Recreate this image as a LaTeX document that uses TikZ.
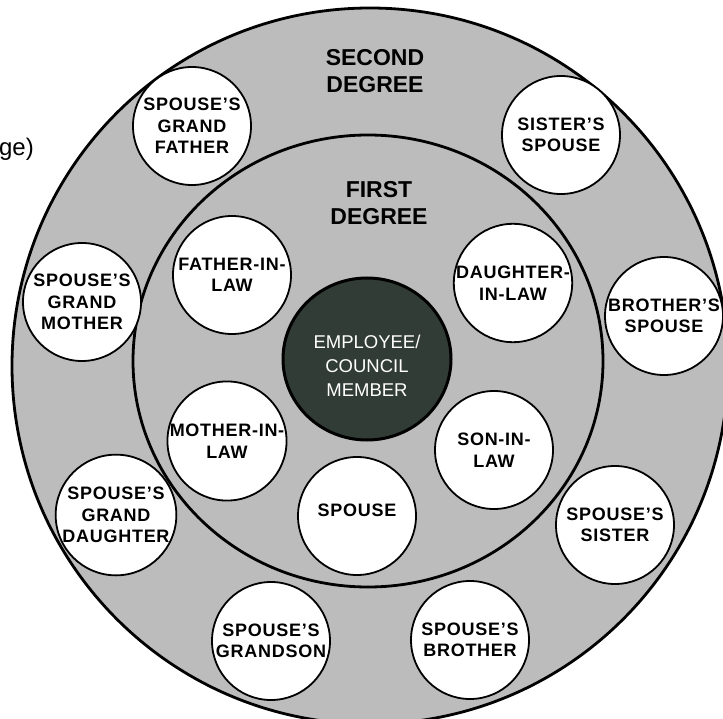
\documentclass[tikz,border=0pt]{standalone}
\usepackage{fontspec}
\setmainfont{Liberation Sans}
\usetikzlibrary{shapes.geometric}
\definecolor{ringgray}{RGB}{188,188,188}
\definecolor{darkcore}{RGB}{50,60,55}
\tikzset{
  ringshape/.style={ellipse, draw=black, line width=2.8pt, fill=ringgray, inner sep=0pt},
  member/.style={circle, draw=black, line width=1.8pt, fill=white, minimum size=118pt,
    inner sep=0pt, align=center,
    font=\fontsize{18}{21.5}\selectfont\bfseries\addfontfeature{LetterSpace=4}},
  core/.style={ellipse, draw=black, line width=3pt, fill=darkcore, inner sep=0pt,
    minimum width=168pt, minimum height=162pt},
  coretext/.style={align=center, text=white, font=\fontsize{18.5}{24}\selectfont},
  title/.style={align=center, font=\fontsize{23}{27}\selectfont\bfseries},
  cuttext/.style={font=\fontsize{24}{28}\selectfont, inner sep=0pt}
}
\begin{document}
\begin{tikzpicture}[x=1pt,y=-1pt]
\useasboundingbox (0,0) rectangle (723,719);
\clip (0,0) rectangle (723,719);
\node[ringshape, minimum width=716pt, minimum height=716pt] (outer) at (370,366) {};
\node[ringshape, minimum width=470pt, minimum height=452pt] (inner) at (368,361) {};
\node[title] (second) at (375,71) {SECOND\\DEGREE};
\node[title] (first) at (379,203) {FIRST\\DEGREE};
\node[cuttext, anchor=base east] (ge) at (34,156) {ge)};
% second degree
\node[member] (sgf) at (192,126) {SPOUSE'S\\GRAND\\FATHER};
\node[member] (sisp) at (561,135) {SISTER'S\\SPOUSE};
\node[member] (sgm) at (82,302) {SPOUSE'S\\GRAND\\MOTHER};
\node[member] (brsp) at (664,316) {BROTHER'S\\SPOUSE};
\node[member] (sgd) at (116,515) {SPOUSE'S\\GRAND\\DAUGHTER};
\node[member] (ssis) at (615,525) {SPOUSE'S\\SISTER};
\node[member] (sgs) at (271,641) {SPOUSE'S\\GRANDSON};
\node[member] (sbro) at (470,640) {SPOUSE'S\\BROTHER};
% first degree
\node[member] (fil) at (232,275) {FATHER-IN-\\LAW};
\node[member] (dil) at (513,283) {DAUGHTER-\\IN-LAW};
\node[member] (mil) at (227,441) {MOTHER-IN-\\LAW};
\node[member] (sil) at (494,450) {SON-IN-\\LAW};
\node[member] (sp) at (357,516) {SPOUSE\\[-10pt]};
% core
\node[core] (emp) at (367,359) {};
\node[coretext] (emptext) at (367,366) {EMPLOYEE/\\COUNCIL\\MEMBER};
\end{tikzpicture}
\end{document}
